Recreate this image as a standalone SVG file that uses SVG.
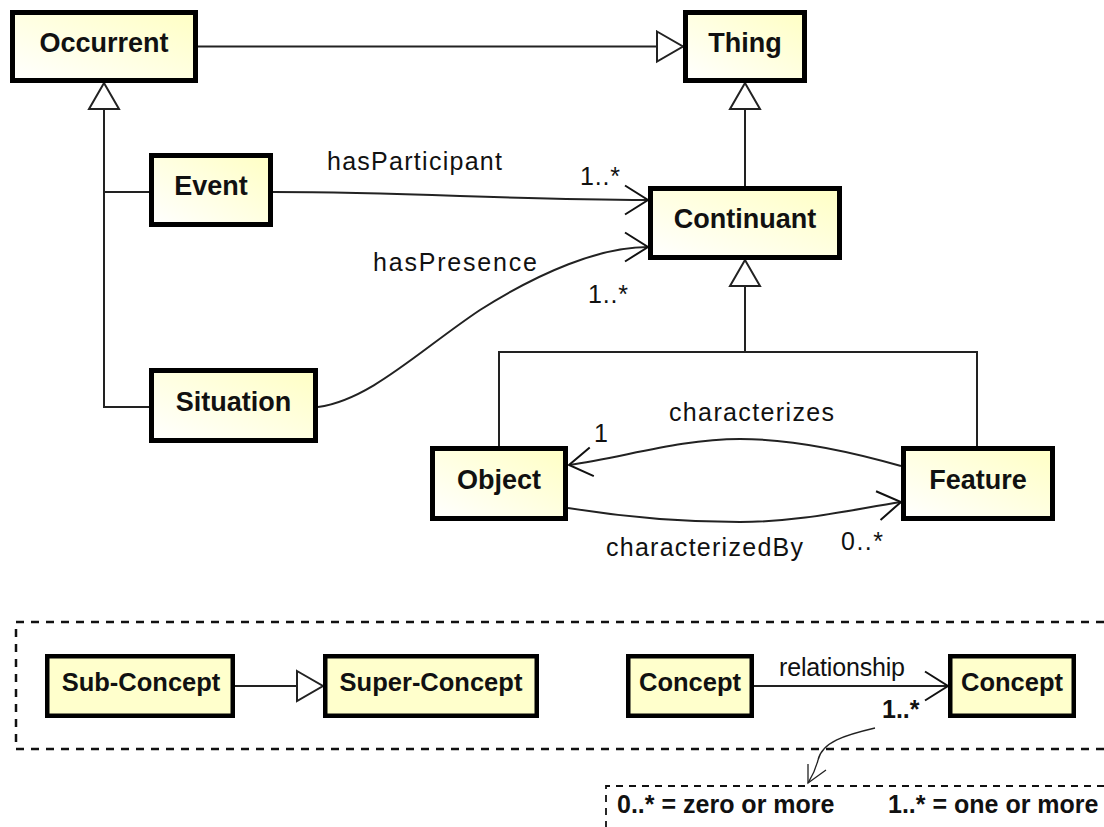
<svg xmlns="http://www.w3.org/2000/svg" width="1104" height="827" viewBox="0 0 1104 827">
  <defs>
    <linearGradient id="boxFill" x1="0" y1="1" x2="1" y2="0">
      <stop offset="0" stop-color="#ffffff"/>
      <stop offset="1" stop-color="#ffffc4"/>
    </linearGradient>
    <!-- hollow triangle for generalization -->
    <marker id="gen" markerUnits="userSpaceOnUse" viewBox="-2 -2 30 34" markerWidth="30" markerHeight="34" refX="26" refY="15" orient="auto">
      <path d="M0,0 L26,15 L0,30 Z" fill="#ffffff" stroke="#222" stroke-width="2" stroke-linejoin="miter"/>
    </marker>
    <!-- open arrowhead for associations -->
    <marker id="open" markerUnits="userSpaceOnUse" viewBox="-2 -2 30 34" markerWidth="30" markerHeight="34" refX="24" refY="15" orient="auto">
      <path d="M1,0.5 L24,15 L1,29.5" fill="none" stroke="#111" stroke-width="2"/>
    </marker>
  </defs>
  <style>
    .box { fill: url(#boxFill); stroke: #000; stroke-width: 5; }
    .lbox { fill: #ffffcc; stroke: #000; stroke-width: 4.5; }
    .name { font-family: "Liberation Sans", Arial, sans-serif; font-weight: bold; font-size: 27px; fill: #111; text-anchor: middle; }
    .lname { font-family: "Liberation Sans", Arial, sans-serif; font-weight: bold; font-size: 25.5px; fill: #111; text-anchor: middle; }
    .lbl { font-family: "Liberation Sans", Arial, sans-serif; font-size: 25px; fill: #111; }
    .note { font-family: "Liberation Sans", Arial, sans-serif; font-weight: bold; font-size: 25px; fill: #111; }
    .line { fill: none; stroke: #222; stroke-width: 2; }
    .dash { fill: none; stroke: #111; stroke-width: 2.5; stroke-dasharray: 8 7; }
    .dash2 { fill: none; stroke: #111; stroke-width: 1.8; stroke-dasharray: 7 6; }
  </style>
  <rect width="1104" height="827" fill="#ffffff"/>

  <!-- legend frames -->
  <g id="legend-frames">
    <path class="dash" d="M1104,622 H16 V749 H1104"/>
    <path class="dash2" d="M1104,786 H606 V827"/>
  </g>

  <g id="connectors">
    <!-- generalizations -->
    <path class="line" d="M198,46.5 H683" marker-end="url(#gen)"/>
    <path class="line" d="M149,407 H104 V83" marker-end="url(#gen)"/>
    <path class="line" d="M149,192 H104"/>
    <path class="line" d="M745,186 V83" marker-end="url(#gen)"/>
    <path class="line" d="M499,446 V352 H977 V446"/>
    <path class="line" d="M745,352 V260" marker-end="url(#gen)"/>
    <!-- associations -->
    <path class="line" d="M273,192 C420,192 500,200 648,200" marker-end="url(#open)"/>
    <path class="line" d="M318,407 C370,400 420,350 480,310 C540,272 600,247 648,247" marker-end="url(#open)"/>
    <path class="line" d="M901,466 C845,450 790,439 740,439 C680,439 625,457 569,465" marker-end="url(#open)"/>
    <path class="line" d="M568,508 C630,518 690,522 740,522 C800,522 850,510 901,502" marker-end="url(#open)"/>
    <!-- legend connectors -->
    <path class="line" d="M235,686 H323" marker-end="url(#gen)"/>
    <path class="line" d="M754,686 H948" marker-end="url(#open)"/>
    <path fill="none" stroke="#222" stroke-width="1.3" d="M875,728 C845,735 822,742 818,760 C815,772 811,778 808,783"/>
    <path fill="none" stroke="#222" stroke-width="1.3" d="M808,764 L808,783 L826,770"/>
  </g>

  <g id="labels">
    <text class="lbl" x="327" y="170" textLength="175" lengthAdjust="spacing">hasParticipant</text>
    <text class="lbl" x="580" y="185" textLength="40" lengthAdjust="spacing">1..*</text>
    <text class="lbl" x="373" y="271" textLength="164" lengthAdjust="spacing">hasPresence</text>
    <text class="lbl" x="588" y="303" textLength="40" lengthAdjust="spacing">1..*</text>
    <text class="lbl" x="669" y="421" textLength="165" lengthAdjust="spacing">characterizes</text>
    <text class="lbl" x="594" y="442">1</text>
    <text class="lbl" x="606" y="556" textLength="197" lengthAdjust="spacing">characterizedBy</text>
    <text class="lbl" x="841" y="550" textLength="42" lengthAdjust="spacing">0..*</text>
    <text class="lbl" x="779" y="676" font-size="21" textLength="126" lengthAdjust="spacing">relationship</text>
    <text class="note" x="882" y="718" font-size="24">1..*</text>
    <text class="note" x="617" y="813">0..* = zero or more</text>
    <text class="note" x="888" y="813">1..* = one or more</text>
  </g>

  <g id="Occurrent"><rect class="box" x="12.5" y="12.5" width="183" height="68"/><text class="name" x="104" y="51.5">Occurrent</text></g>
  <g id="Thing"><rect class="box" x="685.5" y="12.5" width="119" height="68"/><text class="name" x="745" y="51.5">Thing</text></g>
  <g id="Event"><rect class="box" x="151.5" y="155.5" width="119" height="69"/><text class="name" x="211" y="195">Event</text></g>
  <g id="Continuant"><rect class="box" x="650.5" y="188.5" width="189" height="69"/><text class="name" x="745" y="228">Continuant</text></g>
  <g id="Situation"><rect class="box" x="151.5" y="370.5" width="164" height="70"/><text class="name" x="233.5" y="410.5">Situation</text></g>
  <g id="Object"><rect class="box" x="432.5" y="448.5" width="133" height="70"/><text class="name" x="499" y="488.5">Object</text></g>
  <g id="Feature"><rect class="box" x="903.5" y="448.5" width="149" height="70"/><text class="name" x="978" y="488.5">Feature</text></g>

  <g id="SubConcept"><rect class="lbox" x="47.25" y="656.25" width="185.5" height="59.5"/><text class="lname" x="141" y="691">Sub-Concept</text></g>
  <g id="SuperConcept"><rect class="lbox" x="325.25" y="656.25" width="211.5" height="59.5"/><text class="lname" x="431" y="691">Super-Concept</text></g>
  <g id="Concept1"><rect class="lbox" x="628.25" y="656.25" width="123.5" height="59.5"/><text class="lname" x="690" y="691">Concept</text></g>
  <g id="Concept2"><rect class="lbox" x="950.25" y="656.25" width="123.5" height="59.5"/><text class="lname" x="1012" y="691">Concept</text></g>
</svg>
